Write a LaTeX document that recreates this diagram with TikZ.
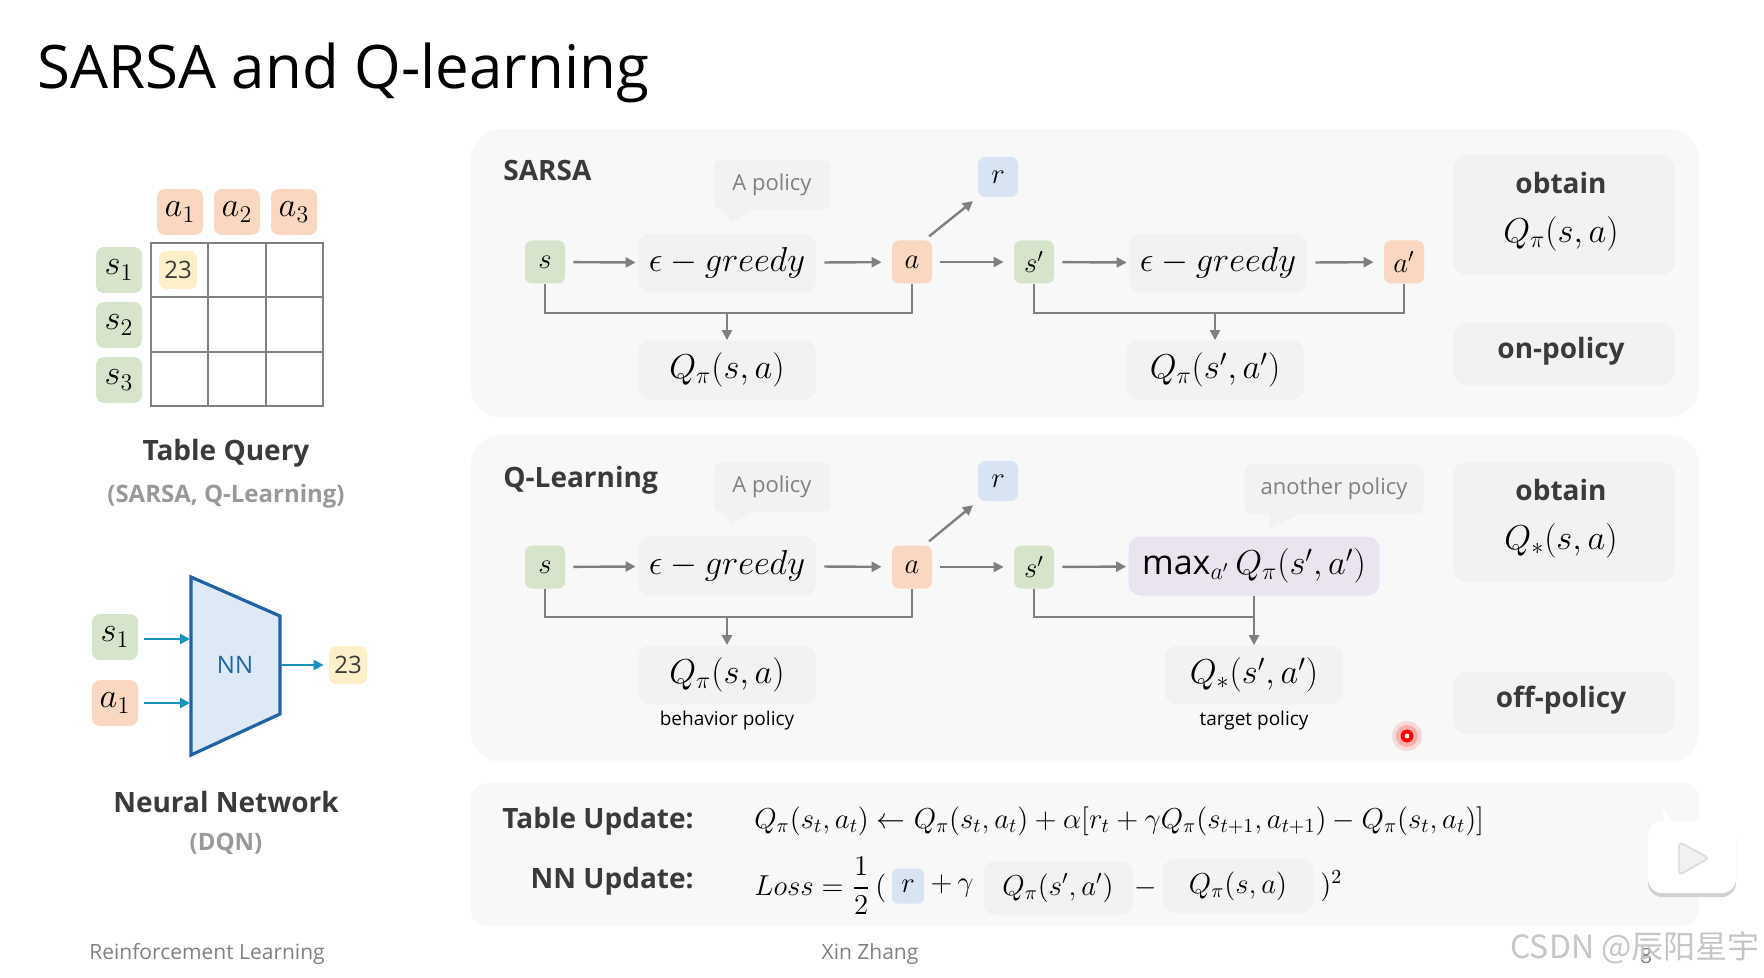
\documentclass[tikz,border=0pt]{standalone}
\usepackage{amsmath}
\usepackage{amssymb}
\usepackage{fontspec}
\usepackage{tikz}
\usetikzlibrary{arrows.meta}
\usepackage{xcolor}
\setmainfont{Open Sans}
\newfontfamily\cjk{Noto Sans CJK SC}
\definecolor{panelgray}{HTML}{F8F8F8}
\definecolor{boxgray}{HTML}{F2F2F2}
\definecolor{stategreen}{HTML}{D6E4CC}
\definecolor{actionorange}{HTML}{F9D7C0}
\definecolor{rewardblue}{HTML}{D9E4F3}
\definecolor{valueyellow}{HTML}{FDF0C8}
\definecolor{maxpurple}{HTML}{E9E4F0}
\definecolor{linegray}{HTML}{7F7F7F}
\definecolor{textdark}{HTML}{3A3A3A}
\definecolor{nnblue}{HTML}{1F62A5}
\definecolor{nnfill}{HTML}{DDE9F6}

\begin{document}
\begin{tikzpicture}[x=0.5pt, y=-0.5pt,
    tag/.style={rounded corners=3.5pt, inner sep=0pt, minimum width=20pt, minimum height=21.5pt, font=\fontsize{14.4}{16}\selectfont},
    statebox/.style={tag, fill=stategreen},
    actionbox/.style={tag, fill=actionorange},
    rewardbox/.style={tag, fill=rewardblue, minimum height=20pt},
    tablehead/.style={rounded corners=4pt, inner sep=0pt, minimum width=23pt, minimum height=23pt, font=\fontsize{17}{20}\selectfont},
    valuebox/.style={rounded corners=3.5pt, inner sep=0pt, fill=valueyellow, minimum width=19pt, minimum height=19pt, font=\fontsize{12}{14}\selectfont, text=textdark},
    mathbox/.style={rounded corners=6pt, inner sep=0pt, fill=boxgray, minimum width=89pt, minimum height=29.5pt, font=\fontsize{17}{20}\selectfont},
    policytag/.style={rounded corners=3pt, inner sep=0pt, fill=boxgray, minimum height=24.5pt, text=gray, font=\fontsize{11}{13}\selectfont},
    sidebox/.style={rounded corners=7pt, fill=boxgray},
    headtext/.style={font=\fontsize{14}{17}\bfseries\selectfont, text=textdark},
    subtext/.style={font=\fontsize{12}{14}\bfseries\selectfont, text=gray!80},
    sidetext/.style={font=\fontsize{14}{17}\bfseries\selectfont, text=textdark},
    smalltext/.style={font=\fontsize{9.5}{12}\selectfont},
    foottext/.style={font=\fontsize{10.5}{13}\selectfont, text=gray},
    flow/.style={draw=linegray, line width=1.2pt, -{Triangle[length=5pt, width=5pt]}},
    link/.style={draw=linegray, line width=1.2pt},
    nnflow/.style={draw=nnblue!70!cyan, line width=1.1pt, -{Triangle[length=5pt, width=5pt]}}]
\useasboundingbox (0,0) rectangle (1764,978);

% Title
\node[anchor=west, inner sep=0pt, font=\fontsize{30}{36}\selectfont] (title) at (37,73) {SARSA and Q-learning};

% Panels
\fill[panelgray, rounded corners=15pt] (471,129) rectangle (1699,417);
\fill[panelgray, rounded corners=15pt] (471,435) rectangle (1699,762);
\fill[panelgray, rounded corners=8pt] (471,783) rectangle (1699,926);

% Table query
\node[actionbox, tablehead] (ta1) at (180,212) {$a_1$};
\node[actionbox, tablehead] (ta2) at (237,212) {$a_2$};
\node[actionbox, tablehead] (ta3) at (294,212) {$a_3$};
\node[statebox, tablehead] (ts1) at (119,270) {$s_1$};
\node[statebox, tablehead] (ts2) at (119,325) {$s_2$};
\node[statebox, tablehead] (ts3) at (119,380) {$s_3$};
\draw[gray, line width=1.1pt] (151,243) rectangle (323,406);
\draw[gray, line width=1.1pt] (208,243) -- (208,406);
\draw[gray, line width=1.1pt] (266,243) -- (266,406);
\draw[gray, line width=1.1pt] (151,297) -- (323,297);
\draw[gray, line width=1.1pt] (151,352) -- (323,352);
\node[valuebox] (tval) at (178,270) {23};
\node[headtext] (tqname) at (226,453) {Table Query};
\node[subtext] (tqsub) at (226,496) {(SARSA, Q-Learning)};

% Neural network
\draw[nnblue, fill=nnfill, line width=1.6pt] (191,577) -- (280,616) -- (280,714) -- (191,755) -- cycle;
\node[text=nnblue, font=\fontsize{12}{14}\selectfont, inner sep=0pt] (nn) at (235,665) {NN};
\node[statebox, tablehead] (ns1) at (115,637) {$s_1$};
\node[actionbox, tablehead] (na1) at (115,703) {$a_1$};
\node[valuebox] (nval) at (348,665) {23};
\coordinate (nnin1) at (190,639);
\coordinate (nnin2) at (190,703);
\coordinate (nnout) at (281,665);
\draw[nnflow, shorten <=3pt] (ns1.east |- nnin1) -- (nnin1);
\draw[nnflow, shorten <=3pt] (na1.east |- nnin2) -- (nnin2);
\draw[nnflow, shorten >=2.5pt] (nnout) -- (nval.west);
\node[headtext] (nnname) at (226,802) {Neural Network};
\node[subtext] (nnsub) at (226,844) {(DQN)};

% SARSA
\node[headtext, anchor=west, inner sep=0pt] (sarsaname) at (503,171) {SARSA};
\node[policytag, minimum width=58pt] (sarsatag) at (772,185) {A policy};
\fill[boxgray] (722,209) -- (731,222) -- (755,209) -- cycle;
\node[statebox] (ss) at (545,262) {$s$};
\node[mathbox] (sgreedy) at (727,263) {$\epsilon-greedy$};
\node[actionbox] (sa) at (912,262) {$a$};
\node[rewardbox] (sr) at (998,177) {$r$};
\node[statebox] (ssp) at (1034,262) {$s'$};
\node[mathbox] (sgreedyb) at (1218,263) {$\epsilon-greedy$};
\node[actionbox] (sap) at (1404,262) {$a'$};
\node[mathbox] (sq) at (727,370) {$Q_\pi(s,a)$};
\node[mathbox] (sqb) at (1215,370) {$Q_\pi(s',a')$};
\draw[flow, shorten <=4pt, shorten >=1pt] (ss) -- (sgreedy);
\draw[flow, shorten <=4pt, shorten >=5pt] (sgreedy) -- (sa);
\draw[flow, shorten <=4pt, shorten >=5pt] (sa) -- (ssp);
\draw[flow, shorten <=4pt, shorten >=1pt] (ssp) -- (sgreedyb);
\draw[flow, shorten <=4pt, shorten >=5pt] (sgreedyb) -- (sap);
\draw[flow, shorten <=3pt, shorten >=3pt] ([xshift=-4pt]sa.north east) -- (sr.south west);
\coordinate (sjoin) at (727,313);
\coordinate (sjoinb) at (1215,313);
\draw[link] (ss.south) |- (sjoin) -| (sa.south);
\draw[link] (ssp.south) |- (sjoinb) -| (sap.south);
\draw[flow] (sjoin) -- (sq.north);
\draw[flow] (sjoinb) -- (sqb.north);
\fill[boxgray, rounded corners=7pt] (1453,155) rectangle (1675,275);
\fill[boxgray, rounded corners=7pt] (1453,323) rectangle (1675,385);
\node[sidetext] (sobtain) at (1561,183) {obtain};
\node[font=\fontsize{17}{20}\selectfont] (sobtainq) at (1561,234) {$Q_\pi(s,a)$};
\node[sidetext] (son) at (1561,351) {on-policy};

% Q-learning
\node[headtext, anchor=west, inner sep=0pt] (qname) at (503,480) {Q-Learning};
\node[policytag, minimum width=58pt] (qtag) at (772,487) {A policy};
\fill[boxgray] (722,511) -- (731,524) -- (755,511) -- cycle;
\node[policytag, minimum width=89.5pt] (qtagb) at (1334,489) {another policy};
\fill[boxgray] (1269,513) -- (1269,529) -- (1302,513) -- cycle;
\node[statebox] (qs) at (545,567) {$s$};
\node[mathbox] (qgreedy) at (727,566) {$\epsilon-greedy$};
\node[actionbox] (qa) at (912,567) {$a$};
\node[rewardbox] (qr) at (998,481) {$r$};
\node[statebox] (qsp) at (1034,567) {$s'$};
\node[mathbox, fill=maxpurple, minimum width=125.5pt] (qmax) at (1254,566) {$\max_{a'}Q_\pi(s',a')$};
\node[mathbox] (qq) at (727,675) {$Q_\pi(s,a)$};
\node[mathbox] (qqb) at (1254,675) {$Q_*(s',a')$};
\node[smalltext] (qbeh) at (727,721) {behavior policy};
\node[smalltext] (qtar) at (1254,721) {target policy};
\draw[flow, shorten <=4pt, shorten >=1pt] (qs) -- (qgreedy);
\draw[flow, shorten <=4pt, shorten >=5pt] (qgreedy) -- (qa);
\draw[flow, shorten <=4pt, shorten >=5pt] (qa) -- (qsp);
\draw[flow, shorten <=4pt, shorten >=1pt] (qsp) -- (qmax);
\draw[flow, shorten <=3pt, shorten >=3pt] ([xshift=-4pt]qa.north east) -- (qr.south west);
\coordinate (qjoin) at (727,617);
\coordinate (qjoinb) at (1254,617);
\draw[link] (qs.south) |- (qjoin) -| (qa.south);
\draw[link] (qsp.south) |- (qjoinb);
\draw[flow] (qjoin) -- (qq.north);
\draw[flow] (qmax.south) -- (qqb.north);
\fill[boxgray, rounded corners=7pt] (1453,462) rectangle (1675,582);
\fill[boxgray, rounded corners=7pt] (1453,672) rectangle (1675,734);
\node[sidetext] (qobtain) at (1561,490) {obtain};
\node[font=\fontsize{17}{20}\selectfont] (qobtainq) at (1561,541) {$Q_*(s,a)$};
\node[sidetext] (qoff) at (1561,700) {off-policy};

% Laser pointer
\fill[red, opacity=0.12] (1407,736) circle (7.5pt);
\fill[red, opacity=0.2] (1407,736) circle (5.5pt);
\fill[red] (1407,736) circle (3.2pt);
\fill[white] (1407,736) circle (1.2pt);

% Updates
\node[headtext, anchor=east, inner sep=0pt] (tupdate) at (694,821) {Table Update:};
\node[headtext, anchor=east, inner sep=0pt] (nupdate) at (694,881) {NN Update:};
\node[anchor=west, inner sep=0pt, font=\fontsize{14.4}{17}\selectfont] (teq) at (754,821)
    {$Q_\pi(s_t,a_t)\leftarrow Q_\pi(s_t,a_t)+\alpha[r_t+\gamma Q_\pi(s_{t+1},a_{t+1})-Q_\pi(s_t,a_t)]$};
\node[anchor=west, inner sep=0pt, font=\fontsize{14.4}{17}\selectfont] (loss) at (754,886) {$Loss=\dfrac{1}{2}\,($};
\node[rounded corners=3pt, fill=rewardblue, inner sep=0pt, minimum width=16pt, minimum height=17.5pt, font=\fontsize{14.4}{17}\selectfont] (nr) at (908,886) {$r$};
\node[inner sep=0pt, font=\fontsize{14.4}{17}\selectfont] (nplus) at (952,886) {$+\,\gamma$};
\node[rounded corners=6pt, fill=boxgray, inner sep=0pt, minimum width=74.5pt, minimum height=27pt, font=\fontsize{14.4}{17}\selectfont] (nq) at (1058,888) {$Q_\pi(s',a')$};
\node[inner sep=0pt, font=\fontsize{14.4}{17}\selectfont] (nminus) at (1146,888) {$-$};
\node[rounded corners=6pt, fill=boxgray, inner sep=0pt, minimum width=75.5pt, minimum height=27pt, font=\fontsize{14.4}{17}\selectfont] (nqb) at (1238,886) {$Q_\pi(s,a)$};
\node[anchor=west, inner sep=0pt, font=\fontsize{14.4}{17}\selectfont] (nclose) at (1320,886) {$)^2$};

% Footer
\node[foottext, anchor=west, inner sep=0pt] (footl) at (89,954) {Reinforcement Learning};
\node[foottext, inner sep=0pt] (footm) at (870,954) {Xin Zhang};
\node[foottext, inner sep=0pt] (footr) at (1646,956) {8};
\node[anchor=east, inner sep=0pt, text=gray!45, font=\cjk\fontsize{16}{19}\selectfont] (mark) at (1760,948) {CSDN @辰阳星宇};

% Play badge
\fill[gray!35, rounded corners=7pt] (1648,824) rectangle (1736,897);
\draw[white, line width=2pt, line cap=round] (1671,826) -- (1664,812);
\draw[white, line width=2pt, line cap=round] (1713,826) -- (1720,812);
\fill[white, rounded corners=7pt] (1648,821) rectangle (1736,893);
\draw[gray!25, fill=gray!10, line width=1pt, rounded corners=2pt] (1679,842) -- (1709,858) -- (1679,875) -- cycle;
\end{tikzpicture}
\end{document}
